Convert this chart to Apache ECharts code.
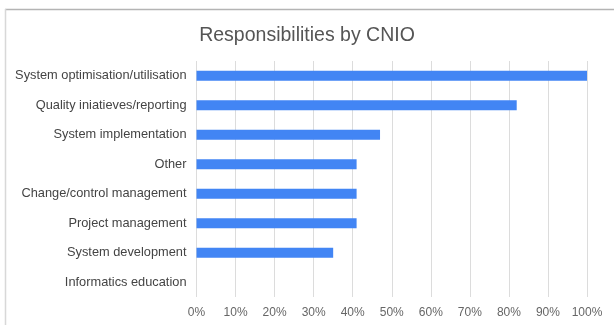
<!DOCTYPE html>
<html>
<head>
<meta charset="utf-8">
<script src="https://cdn.jsdelivr.net/npm/echarts@6/dist/echarts.min.js"></script>
<style>
  html, body { margin: 0; padding: 0; background: #fff; }
  #chart { width: 614px; height: 325px; }
</style>
</head>
<body>
<div id="chart"></div>
<script>
// ==============================
// data
// ==============================
const categories = [
  'System optimisation/utilisation',
  'Quality iniatieves/reporting',
  'System implementation',
  'Other',
  'Change/control management',
  'Project management',
  'System development',
  'Informatics education'
];
const shares = [100, 82, 47, 41, 41, 41, 35, 0];

const barColor = '#4285F4';

// ==============================
// chart
// ==============================
const chart = echarts.init(document.getElementById('chart'));

chart.setOption({
  animation: false,
  title: {
    text: 'Responsibilities by CNIO',
    left: 'center',
    top: 21,
    textStyle: {
      color: '#555',
      fontSize: 19.5,
      fontWeight: 'normal',
      fontFamily: 'Liberation Sans'
    }
  },
  // frame lines of the screenshot (top and left only)
  graphic: [
    { type: 'line', shape: { x1: 5, y1: 9.5, x2: 614, y2: 9.5 }, style: { stroke: '#b4b4b4', lineWidth: 1.5 } },
    { type: 'line', shape: { x1: 5.5, y1: 9, x2: 5.5, y2: 325 }, style: { stroke: '#d8d8d8', lineWidth: 1.5 } }
  ],
  grid: {
    left: 196.5,
    right: 27,
    top: 61,
    bottom: 28,
    containLabel: false
  },
  xAxis: {
    type: 'value',
    min: 0,
    max: 100,
    interval: 10,
    axisLine: { show: false },
    axisTick: { show: false },
    splitLine: { lineStyle: { color: '#dcdcdc', width: 1 } },
    axisLabel: {
      formatter: v => v + '%',
      color: '#666',
      fontSize: 12,
      fontFamily: 'Liberation Sans',
      margin: 10
    }
  },
  yAxis: {
    type: 'category',
    data: categories,
    inverse: true,
    axisLine: { show: false },
    axisTick: { show: false },
    splitLine: { show: false },
    axisLabel: {
      color: '#444',
      fontSize: 12.8,
      fontFamily: 'Liberation Sans',
      margin: 10
    }
  },
  series: [{
    type: 'bar',
    data: shares,
    barWidth: 10,
    itemStyle: { color: barColor }
  }]
});
</script>
</body>
</html>
